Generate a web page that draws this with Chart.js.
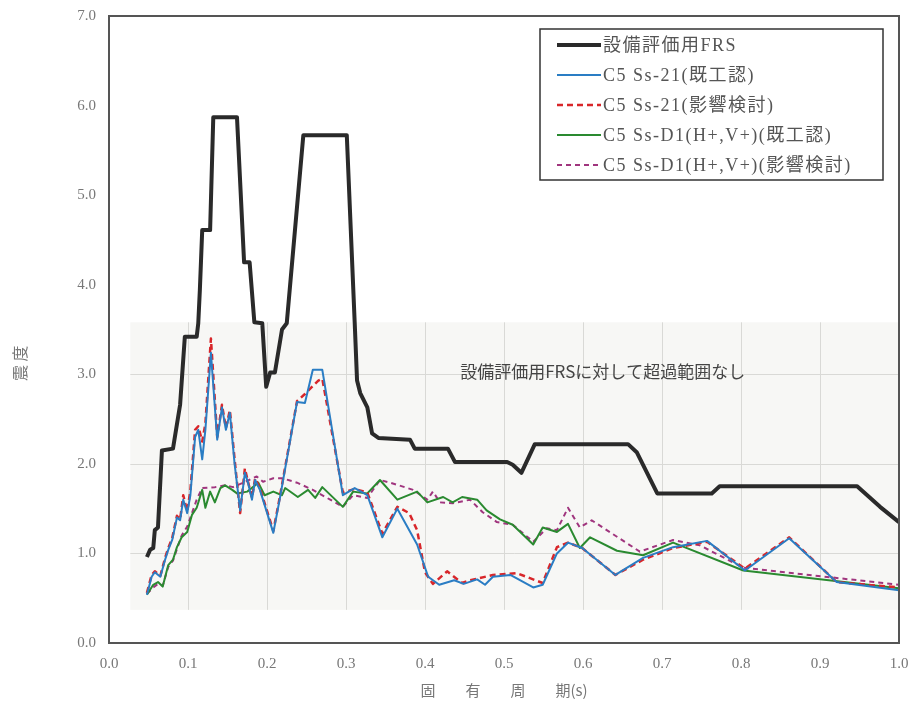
<!DOCTYPE html>
<html>
<head>
<meta charset="utf-8">
<script src="https://cdn.jsdelivr.net/npm/chart.js@4/dist/chart.umd.min.js"></script>
<style>
  html, body { margin: 0; padding: 0; background: #fff; }
  canvas { display: block; }
</style>
</head>
<body>
<canvas id="chartCanvas" width="915" height="706"></canvas>
<script>
// 固有周期 (s) と震度 — 図から読み取った値
const frsX = [0.048,0.052,0.056,0.058,0.062,0.067,0.081,0.090,0.096,0.111,0.113,0.115,0.118,0.128,0.132,0.162,0.171,0.178,0.184,0.194,0.199,0.204,0.210,0.219,0.225,0.246,0.301,0.311,0.314,0.318,0.327,0.333,0.341,0.381,0.387,0.429,0.438,0.504,0.511,0.522,0.539,0.657,0.668,0.694,0.763,0.773,0.947,0.976,1.0];
const frsY = [0.96,1.04,1.06,1.26,1.29,2.15,2.17,2.66,3.42,3.42,3.57,3.94,4.61,4.61,5.87,5.87,4.25,4.25,3.58,3.57,2.86,3.02,3.02,3.50,3.57,5.67,5.67,3.58,2.93,2.79,2.63,2.34,2.29,2.27,2.17,2.17,2.02,2.02,1.99,1.90,2.22,2.22,2.13,1.67,1.67,1.75,1.75,1.52,1.35];

const ss21KiX = [0.048,0.054,0.058,0.065,0.071,0.075,0.080,0.086,0.090,0.094,0.099,0.103,0.109,0.113,0.118,0.122,0.129,0.137,0.143,0.148,0.153,0.159,0.166,0.172,0.176,0.181,0.185,0.191,0.208,0.216,0.238,0.248,0.258,0.270,0.296,0.311,0.327,0.346,0.365,0.390,0.404,0.418,0.437,0.449,0.466,0.476,0.486,0.508,0.537,0.549,0.567,0.581,0.599,0.641,0.676,0.714,0.757,0.805,0.861,0.921,1.0];
const ss21KiY = [0.54,0.74,0.79,0.74,0.93,1.04,1.15,1.40,1.37,1.60,1.45,1.65,2.30,2.38,2.05,2.38,3.24,2.27,2.63,2.38,2.57,2.00,1.48,1.90,1.79,1.60,1.82,1.71,1.23,1.60,2.69,2.68,3.05,3.05,1.65,1.73,1.65,1.18,1.50,1.10,0.74,0.65,0.70,0.66,0.71,0.65,0.74,0.76,0.62,0.65,1.00,1.12,1.06,0.76,0.95,1.07,1.14,0.81,1.17,0.68,0.59];

const ss21EiX = [0.048,0.054,0.058,0.065,0.071,0.075,0.080,0.086,0.090,0.094,0.099,0.103,0.109,0.113,0.118,0.122,0.129,0.137,0.143,0.148,0.153,0.159,0.166,0.172,0.176,0.181,0.185,0.191,0.208,0.216,0.238,0.248,0.265,0.270,0.296,0.311,0.327,0.346,0.365,0.380,0.390,0.400,0.410,0.428,0.447,0.457,0.486,0.516,0.549,0.567,0.581,0.599,0.641,0.676,0.714,0.757,0.805,0.861,0.921,1.0];
const ss21EiY = [0.56,0.76,0.80,0.75,0.95,1.06,1.17,1.42,1.38,1.65,1.47,1.70,2.38,2.42,2.25,2.45,3.40,2.30,2.66,2.40,2.60,2.05,1.45,1.95,1.80,1.62,1.84,1.73,1.25,1.62,2.70,2.78,2.93,2.95,1.68,1.72,1.68,1.22,1.52,1.45,1.26,0.79,0.66,0.80,0.67,0.70,0.76,0.78,0.67,1.07,1.12,1.06,0.76,0.93,1.06,1.13,0.83,1.18,0.68,0.62];

const d1KiX = [0.048,0.056,0.062,0.068,0.075,0.081,0.086,0.092,0.099,0.105,0.111,0.118,0.122,0.128,0.134,0.141,0.147,0.156,0.162,0.175,0.189,0.197,0.208,0.219,0.223,0.239,0.252,0.261,0.270,0.296,0.309,0.327,0.343,0.365,0.390,0.403,0.423,0.435,0.447,0.466,0.478,0.495,0.511,0.537,0.549,0.567,0.581,0.596,0.609,0.643,0.676,0.714,0.803,1.0];
const d1KiY = [0.54,0.65,0.68,0.63,0.87,0.93,1.07,1.18,1.24,1.43,1.51,1.71,1.51,1.69,1.57,1.73,1.76,1.71,1.67,1.69,1.79,1.65,1.69,1.65,1.73,1.63,1.71,1.62,1.74,1.52,1.69,1.67,1.82,1.60,1.69,1.57,1.63,1.57,1.63,1.60,1.48,1.38,1.32,1.10,1.29,1.24,1.33,1.06,1.18,1.03,0.98,1.12,0.81,0.61];

const d1EiX = [0.048,0.056,0.062,0.068,0.075,0.081,0.086,0.092,0.099,0.105,0.111,0.118,0.134,0.147,0.157,0.170,0.187,0.195,0.208,0.219,0.238,0.258,0.280,0.296,0.309,0.327,0.343,0.356,0.385,0.403,0.410,0.419,0.435,0.457,0.473,0.491,0.511,0.537,0.554,0.567,0.581,0.596,0.611,0.672,0.714,0.748,0.803,1.0];
const d1EiY = [0.55,0.62,0.66,0.64,0.85,0.92,1.05,1.20,1.30,1.45,1.60,1.73,1.74,1.76,1.74,1.79,1.86,1.80,1.84,1.84,1.79,1.71,1.60,1.52,1.65,1.62,1.82,1.79,1.71,1.60,1.69,1.57,1.56,1.60,1.46,1.35,1.32,1.13,1.28,1.26,1.51,1.29,1.37,1.02,1.15,1.09,0.84,0.65];

const seriesLabels = [
  "設備評価用FRS",
  "C5 Ss-21(既工認)",
  "C5 Ss-21(影響検討)",
  "C5 Ss-D1(H+,V+)(既工認)",
  "C5 Ss-D1(H+,V+)(影響検討)"
];
const xTicks = [0, 0.1, 0.2, 0.3, 0.4, 0.5, 0.6, 0.7, 0.8, 0.9, 1.0];
const yTicks = [0, 1, 2, 3, 4, 5, 6, 7];
const noteText = "設備評価用FRSに対して超過範囲なし";

const serif = "'Liberation Serif', 'Noto Sans CJK JP', serif";

function toPoints(xs, ys) {
  return xs.map((x, i) => ({ x: x, y: ys[i] }));
}

// light grey inset panel with its own grid, as in the pasted-in figure
const insetPanel = {
  id: "insetPanel",
  beforeDatasetsDraw(chart) {
    const { ctx, scales: { x, y } } = chart;
    const left = x.getPixelForValue(0.027), right = x.getPixelForValue(1.0);
    const top = y.getPixelForValue(3.58), bottom = y.getPixelForValue(0.37);
    ctx.save();
    ctx.fillStyle = "#f7f7f5";
    ctx.fillRect(left, top, right - left, bottom - top);
    ctx.strokeStyle = "#d9d9d6";
    ctx.lineWidth = 1;
    ctx.beginPath();
    xTicks.slice(1, -1).forEach(v => {
      const px = Math.round(x.getPixelForValue(v)) + 0.5;
      ctx.moveTo(px, top); ctx.lineTo(px, bottom);
    });
    [1, 2, 3].forEach(v => {
      const py = Math.round(y.getPixelForValue(v)) + 0.5;
      ctx.moveTo(left, py); ctx.lineTo(right, py);
    });
    ctx.stroke();
    ctx.fillStyle = "#444";
    ctx.font = "17px 'Noto Sans CJK JP'";
    ctx.textAlign = "center";
    ctx.textBaseline = "middle";
    ctx.fillText(noteText, x.getPixelForValue(0.625), y.getPixelForValue(3.03));
    ctx.restore();
  }
};

const frameAndLegend = {
  id: "frameAndLegend",
  afterDatasetsDraw(chart) {
    const { ctx, chartArea: a } = chart;
    ctx.save();
    ctx.strokeStyle = "#555";
    ctx.lineWidth = 2;
    ctx.strokeRect(a.left, a.top, a.right - a.left, a.bottom - a.top);

    const w = 343, h = 151;
    const bx = a.right - 16 - w, by = a.top + 13;
    ctx.fillStyle = "#fff";
    ctx.fillRect(bx, by, w, h);
    ctx.strokeStyle = "#333";
    ctx.lineWidth = 1.5;
    ctx.strokeRect(bx, by, w, h);

    chart.data.datasets.forEach((ds, i) => {
      const ly = by + 16 + i * 30;
      ctx.strokeStyle = ds.borderColor;
      ctx.lineWidth = ds.borderWidth;
      ctx.setLineDash(ds.borderDash || []);
      ctx.beginPath();
      ctx.moveTo(bx + 17, ly);
      ctx.lineTo(bx + 61, ly);
      ctx.stroke();
      ctx.setLineDash([]);
      ctx.fillStyle = "#555";
      ctx.font = "18px " + serif;
      ctx.letterSpacing = "1.5px";
      ctx.textAlign = "left";
      ctx.textBaseline = "middle";
      ctx.fillText(ds.label, bx + 63, ly + 1);
      ctx.letterSpacing = "0px";
    });
    ctx.restore();
  }
};

const ctx = document.getElementById("chartCanvas").getContext("2d");
new Chart(ctx, {
  type: "line",
  data: {
    datasets: [
      { label: seriesLabels[0], data: toPoints(frsX, frsY), borderColor: "#2a2a2a", borderWidth: 4 },
      { label: seriesLabels[1], data: toPoints(ss21KiX, ss21KiY), borderColor: "#2a7dc4", borderWidth: 2 },
      { label: seriesLabels[2], data: toPoints(ss21EiX, ss21EiY), borderColor: "#d8262a", borderWidth: 2.5, borderDash: [6, 4] },
      { label: seriesLabels[3], data: toPoints(d1KiX, d1KiY), borderColor: "#2a8a30", borderWidth: 2 },
      { label: seriesLabels[4], data: toPoints(d1EiX, d1EiY), borderColor: "#a0357e", borderWidth: 2, borderDash: [5, 4] }
    ]
  },
  options: {
    responsive: false,
    animation: false,
    devicePixelRatio: 1,
    layout: { padding: { left: 0, right: 16, top: 16, bottom: 0 } },
    elements: {
      point: { radius: 0 },
      line: { tension: 0, borderJoinStyle: "round", fill: false }
    },
    plugins: {
      legend: { display: false },
      tooltip: { enabled: false }
    },
    scales: {
      x: {
        type: "linear",
        min: 0, max: 1,
        afterFit: s => { s.height = 63; s.paddingLeft = 0; s.paddingRight = 0; },
        afterBuildTicks: s => { s.ticks = xTicks.map(v => ({ value: v })); },
        grid: { display: false, drawTicks: false },
        border: { display: false },
        ticks: {
          padding: 12,
          maxRotation: 0,
          color: "#777",
          font: { family: serif, size: 15 },
          callback: v => Number(v).toFixed(1)
        },
        title: {
          display: true,
          text: "固　　有　　周　　期(s)",
          color: "#777",
          font: { family: "'Noto Sans CJK JP'", size: 15 },
          padding: { top: 0, bottom: 7 }
        }
      },
      y: {
        min: 0, max: 7,
        afterFit: s => { s.width = 109; s.paddingTop = 0; s.paddingBottom = 0; },
        afterBuildTicks: s => { s.ticks = yTicks.map(v => ({ value: v })); },
        grid: { display: false, drawTicks: false },
        border: { display: false },
        ticks: {
          padding: 13,
          color: "#777",
          font: { family: serif, size: 15 },
          callback: v => Number(v).toFixed(1)
        },
        title: {
          display: true,
          // trailing blanks push the label below the middle, as in the scan
          text: "震 度　　　　 ",
          color: "#777",
          font: { family: "'Noto Sans CJK JP'", size: 16 },
          padding: { top: 10, bottom: 0 }
        }
      }
    }
  },
  plugins: [insetPanel, frameAndLegend]
});
</script>
</body>
</html>
